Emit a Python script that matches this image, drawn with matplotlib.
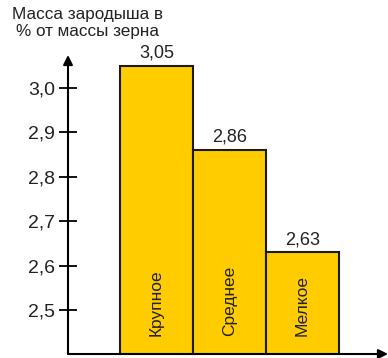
# bar chart: embryo mass as % of grain mass for three grain sizes
import matplotlib.pyplot as plt
import numpy as np

plt.rcParams['font.family'] = ['Liberation Sans', 'DejaVu Sans']

# data
categories = ['Крупное', 'Среднее', 'Мелкое']
values = [3.05, 2.86, 2.63]
value_labels = ['3,05', '2,86', '2,63']
tick_values = [2.5, 2.6, 2.7, 2.8, 2.9, 3.0]
tick_labels = ['2,5', '2,6', '2,7', '2,8', '2,9', '3,0']

W, H = 388, 358
fig = plt.figure(figsize=(W / 100, H / 100), dpi=100)

# axes placed in pixel terms: y axis at x=68, x axis at y=354
ax = fig.add_axes([68 / W, 4 / H, 320 / W, 299 / H])
ax.patch.set_alpha(0)

x = np.arange(len(categories))
ax.bar(x, values, width=1.0, color='#ffcc00', edgecolor='#1a1a1a',
       linewidth=1.5, zorder=2)

x0 = -0.5 - 52 / 73
ax.set_xlim(x0, x0 + 320 / 73)
ax.set_ylim(2.401, 3.074)

for s in ax.spines.values():
    s.set_visible(False)

# axes drawn as arrows
ax.annotate('', xy=(0, 1), xytext=(0, 0), xycoords='axes fraction',
            arrowprops=dict(arrowstyle='-|>', color='black', lw=1.5,
                            mutation_scale=14, shrinkA=0, shrinkB=0),
            annotation_clip=False)
ax.annotate('', xy=(1, 0), xytext=(0, 0), xycoords='axes fraction',
            arrowprops=dict(arrowstyle='-|>', color='black', lw=1.5,
                            mutation_scale=14, shrinkA=0, shrinkB=0),
            annotation_clip=False)

ax.set_xticks([])
ax.set_yticks(tick_values)
ax.set_yticklabels(tick_labels)
ax.tick_params(axis='y', direction='inout', length=13, width=1.3,
               labelsize=14, pad=3, colors='black')
for t in ax.get_yticklabels():
    t.set_color('#222222')

# value labels above bars
for xi, v, lab in zip(x, values, value_labels):
    ax.annotate(lab, xy=(xi, v), xytext=(0, 3), textcoords='offset points',
                ha='center', va='bottom', fontsize=13, color='#222222')

# category names written vertically inside the bars
for xi, name in zip(x, categories):
    ax.annotate(name, xy=(xi, 2.401), xytext=(0, 13), textcoords='offset points',
                ha='center', va='bottom', rotation=90, fontsize=12.5,
                color='#222222')

fig.text(88 / W, 1 - 23 / H, 'Масса зародыша в\n% от массы зерна',
         ha='center', va='center', fontsize=12.3, color='#222222',
         linespacing=1.15)

fig.savefig('out.png', dpi=100)
